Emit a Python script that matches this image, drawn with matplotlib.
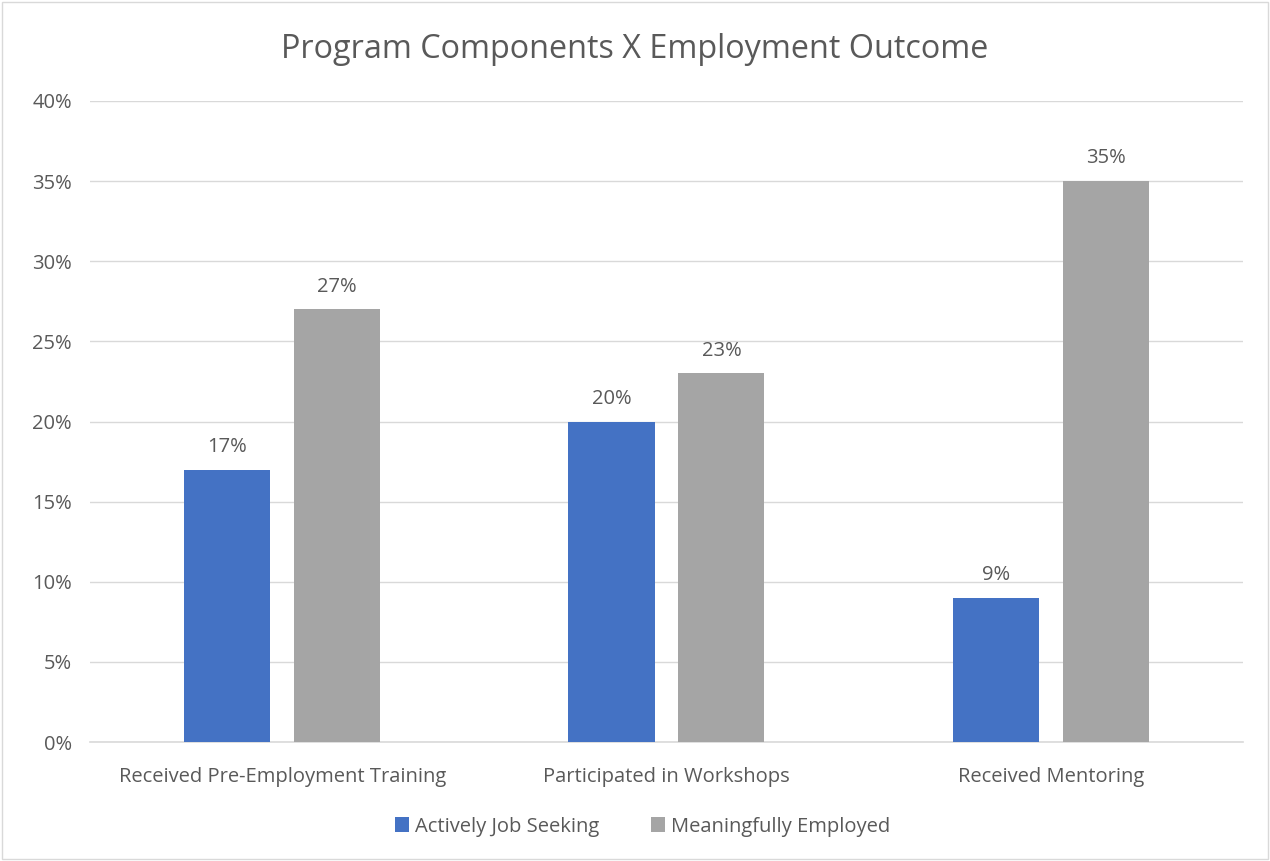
import matplotlib.pyplot as plt
import numpy as np
from matplotlib.ticker import FuncFormatter

plt.rcParams['font.family'] = ['Open Sans', 'DejaVu Sans']

# share of participants per program component
categories = ['Received Pre-Employment Training', 'Participated in Workshops', 'Received Mentoring']
job_seeking = [17, 20, 9]
employed = [27, 23, 35]
series_names = ['Actively Job Seeking', 'Meaningfully Employed']
colors = ['#4472c4', '#a5a5a5']
text_color = '#595959'

fig = plt.figure(figsize=(12.7, 8.61), dpi=100)
ax = fig.add_axes([0.0709, 0.1382, 0.9078, 0.7445])

x = np.arange(len(categories))
width = 0.224
offset = 0.143
b1 = ax.bar(x - offset, job_seeking, width, color=colors[0], label=series_names[0], zorder=3)
b2 = ax.bar(x + offset, employed, width, color=colors[1], label=series_names[1], zorder=3)

for bars, vals in ((b1, job_seeking), (b2, employed)):
    for rect, v in zip(bars, vals):
        ax.text(rect.get_x() + rect.get_width() / 2, v + 0.8, f'{v}%',
                ha='center', va='bottom', fontsize=14.5, color=text_color)

ax.set_xlim(-0.5, 2.5)
ax.set_ylim(0, 40)
ax.set_yticks(range(0, 41, 5))
ax.yaxis.set_major_formatter(FuncFormatter(lambda v, p: f'{int(v)}%'))
ax.set_xticks(x)
ax.set_xticklabels(categories)
ax.tick_params(axis='both', length=0, labelsize=14.5, labelcolor=text_color)
ax.tick_params(axis='x', pad=18)
ax.tick_params(axis='y', pad=13)
ax.grid(axis='y', color='#d9d9d9', linewidth=1, zorder=0)
for s in ('top', 'right', 'left'):
    ax.spines[s].set_visible(False)
ax.spines['bottom'].set_color('#d9d9d9')
ax.spines['bottom'].set_linewidth(1.2)

fig.suptitle('Program Components X Employment Outcome', y=0.962, fontsize=23.3, color=text_color)

fig.legend(loc='center', bbox_to_anchor=(0.506, 0.04), ncol=2, frameon=False,
           fontsize=14.5, labelcolor=text_color, handlelength=0.7, handleheight=0.7,
           handletextpad=0.3, columnspacing=2.6)

# thin frame around the whole chart
fig.patches.append(plt.Rectangle((0.0015, 0.002), 0.997, 0.996, transform=fig.transFigure,
                                 fill=False, edgecolor='#d9d9d9', linewidth=1))

fig.savefig('out.png', dpi=100)
